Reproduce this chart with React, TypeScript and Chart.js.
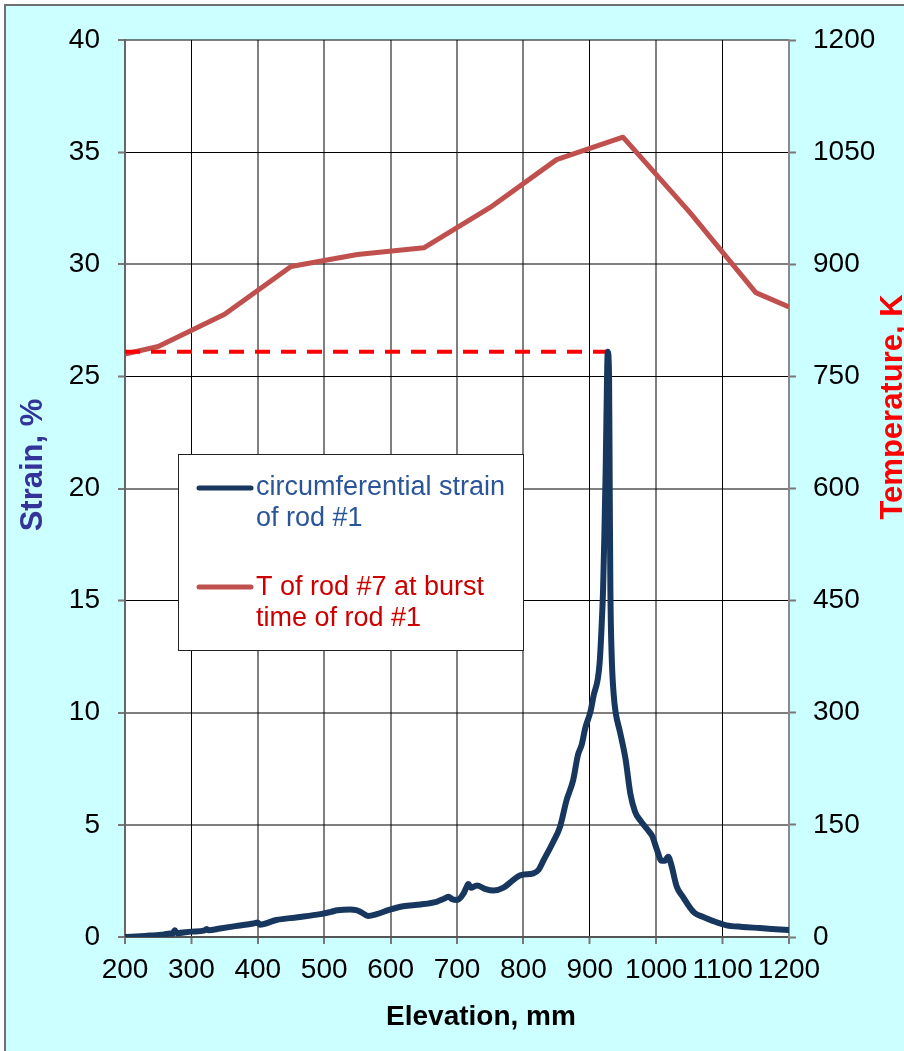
import React, { useEffect, useRef } from "react";
import { Chart, registerables } from "chart.js";

Chart.register(...registerables);

const FONT = '"Liberation Sans", Arial, Helvetica, sans-serif';

// Circumferential strain of rod #1 along the elevation (mm -> %)
const strainElevation = [
  200, 230, 255, 268, 272, 275, 278, 300, 320, 323,
  326, 343, 370, 393, 400, 403, 428, 460, 494, 510,
  520, 539, 548, 556, 566, 579, 599, 619, 645, 669,
  680, 687, 693, 700, 710, 714, 717, 721, 730, 742,
  755, 770, 783, 795, 815, 823, 830, 845, 855, 865,
  875, 882, 888, 893, 901, 906, 912, 915, 918, 920,
  922, 924, 926, 927, 929, 930, 931, 933, 936, 939,
  945, 948, 954, 961, 968, 976, 988, 994, 1001, 1008,
  1013, 1018, 1022, 1031, 1040, 1050, 1058, 1070, 1085, 1106,
  1130, 1156, 1180, 1200,
];
const strainPercent = [
  0, 0.05, 0.1, 0.16, 0.15, 0.3, 0.17, 0.24, 0.3, 0.36,
  0.3, 0.38, 0.5, 0.6, 0.65, 0.55, 0.76, 0.88, 1.02, 1.12,
  1.19, 1.23, 1.2, 1.1, 0.94, 1.02, 1.22, 1.37, 1.45, 1.57,
  1.7, 1.8, 1.68, 1.65, 1.95, 2.2, 2.36, 2.2, 2.3, 2.15,
  2.07, 2.2, 2.5, 2.75, 2.84, 3.0, 3.4, 4.25, 4.9, 6.1,
  7.0, 8.1, 8.6, 9.3, 10.05, 10.8, 11.5, 12.3, 14, 15.5,
  18, 21, 25, 26.1, 25, 20, 15.5, 12.5, 10.8, 10,
  9.2, 8.8, 7.9, 6.4, 5.6, 5.2, 4.75, 4.5, 3.9, 3.4,
  3.4, 3.58, 3.3, 2.24, 1.8, 1.35, 1.07, 0.9, 0.72, 0.52,
  0.45, 0.4, 0.35, 0.31,
];

// Temperature of rod #7 at the burst time of rod #1 (mm -> K)
const tempElevation = [200, 250, 350, 450, 500, 550, 650, 750, 850, 950, 1050, 1150, 1200];
const tempKelvin = [780, 790, 833, 897, 905, 913, 922, 976, 1040, 1070, 970, 862, 843];

// Burst strain marker (dashed), on the strain axis
const burstElevation = [200, 927];
const burstStrain = [26.1, 26.1];

const strainLegend = ["circumferential strain", "of rod #1"];
const tempLegend = ["T of rod #7 at burst", "time of rod #1"];

const xDarkGrid = [300, 900, 1100];
const yDarkGrid = [35, 25, 15];

const STRAIN_COLOR = "#17375e";
const TEMP_COLOR = "#c0504d";

const toPoints = (xs: number[], ys: number[]) => xs.map((x, i) => ({ x, y: ys[i] }));
const plainNumber = (v: any) => String(v);

const decorPlugin = {
  id: "decor",
  beforeDraw(chart: any) {
    const { ctx, chartArea } = chart;
    ctx.save();
    ctx.fillStyle = "#ffffff";
    ctx.fillRect(chartArea.left, chartArea.top, chartArea.right - chartArea.left, chartArea.bottom - chartArea.top);
    ctx.restore();
  },
  afterDraw(chart: any) {
    const { ctx } = chart;
    ctx.save();

    // legend box
    ctx.fillStyle = "#ffffff";
    ctx.fillRect(178.5, 454.5, 345, 196);
    ctx.strokeStyle = "#222";
    ctx.lineWidth = 1;
    ctx.strokeRect(178.5, 454.5, 345, 196);

    ctx.lineCap = "round";
    ctx.lineWidth = 5;
    ctx.strokeStyle = STRAIN_COLOR;
    ctx.beginPath();
    ctx.moveTo(199, 488);
    ctx.lineTo(251, 488);
    ctx.stroke();
    ctx.strokeStyle = TEMP_COLOR;
    ctx.beginPath();
    ctx.moveTo(199, 587);
    ctx.lineTo(251, 587);
    ctx.stroke();

    ctx.font = `27px ${FONT}`;
    ctx.textAlign = "left";
    ctx.textBaseline = "middle";
    ctx.fillStyle = "#2a5599";
    strainLegend.forEach((t, i) => ctx.fillText(t, 256, 488 + i * 31));
    ctx.fillStyle = "#cc0000";
    tempLegend.forEach((t, i) => ctx.fillText(t, 256, 588 + i * 31));

    // axis titles
    ctx.textAlign = "center";
    ctx.textBaseline = "alphabetic";
    ctx.font = `bold 31px ${FONT}`;
    ctx.fillStyle = "#333399";
    ctx.save();
    ctx.translate(42, 465);
    ctx.rotate(-Math.PI / 2);
    ctx.fillText("Strain, %", 0, 0);
    ctx.restore();

    ctx.fillStyle = "#ff0000";
    ctx.save();
    ctx.translate(902, 407);
    ctx.rotate(-Math.PI / 2);
    ctx.fillText("Temperature, K", 0, 0);
    ctx.restore();

    ctx.fillStyle = "#000000";
    ctx.font = `bold 28px ${FONT}`;
    ctx.fillText("Elevation, mm", 481, 1025);

    ctx.restore();
  },
};

export default function App() {
  const canvasRef = useRef<HTMLCanvasElement | null>(null);

  useEffect(() => {
    const canvas = canvasRef.current;
    if (!canvas) return;
    const tickFont = { family: FONT, size: 28 };

    const chart = new Chart(canvas, {
      type: "line",
      data: {
        datasets: [
          {
            label: strainLegend.join(" "),
            data: toPoints(strainElevation, strainPercent),
            yAxisID: "y",
            borderColor: STRAIN_COLOR,
            borderWidth: 6,
            pointRadius: 0,
            cubicInterpolationMode: "monotone",
            borderJoinStyle: "round",
            borderCapStyle: "round",
            fill: false,
          },
          {
            label: "burst",
            data: toPoints(burstElevation, burstStrain),
            yAxisID: "y",
            borderColor: "#ff0000",
            borderWidth: 4,
            borderDash: [15, 11],
            pointRadius: 0,
            tension: 0,
            fill: false,
          },
          {
            label: tempLegend.join(" "),
            data: toPoints(tempElevation, tempKelvin),
            yAxisID: "y2",
            borderColor: TEMP_COLOR,
            borderWidth: 5,
            pointRadius: 0,
            tension: 0,
            borderJoinStyle: "round",
            fill: false,
          },
        ],
      },
      options: {
        responsive: false,
        animation: false,
        layout: { padding: { top: 40, left: 0, right: 0, bottom: 0 } },
        plugins: {
          legend: { display: false },
          tooltip: { enabled: false },
          title: { display: false },
        },
        scales: {
          x: {
            type: "linear",
            min: 200,
            max: 1200,
            afterFit: (s: any) => {
              s.height = 114;
            },
            ticks: {
              stepSize: 100,
              autoSkip: false,
              maxRotation: 0,
              minRotation: 0,
              padding: 9,
              color: "#000",
              font: tickFont,
              callback: plainNumber,
            },
            grid: {
              color: (c: any) => (xDarkGrid.includes(c.tick?.value) ? "#000000" : "rgba(0,0,0,0.5)"),
              lineWidth: (c: any) => (xDarkGrid.includes(c.tick?.value) ? 1 : 2),
              tickLength: 7,
              tickColor: "#777777",
              tickWidth: 2,
            },
            border: { display: true, color: "#555555", width: 2 },
          },
          y: {
            type: "linear",
            position: "left",
            min: 0,
            max: 40,
            afterFit: (s: any) => {
              s.width = 125;
            },
            ticks: { stepSize: 5, padding: 18, color: "#000", font: tickFont, callback: plainNumber },
            grid: {
              color: (c: any) => (yDarkGrid.includes(c.tick?.value) ? "#000000" : "rgba(0,0,0,0.5)"),
              lineWidth: (c: any) => (yDarkGrid.includes(c.tick?.value) ? 1 : 2),
              tickLength: 7,
              tickColor: "#777777",
              tickWidth: 2,
            },
            border: { display: true, color: "#666666", width: 2 },
          },
          y2: {
            type: "linear",
            position: "right",
            min: 0,
            max: 1200,
            afterFit: (s: any) => {
              s.width = 115;
            },
            ticks: { stepSize: 150, padding: 17, color: "#000", font: tickFont, callback: plainNumber },
            grid: {
              drawOnChartArea: false,
              tickLength: 7,
              tickColor: "#777777",
              tickWidth: 2,
            },
            border: { display: true, color: "#8a8a8a", width: 2 },
          },
        },
      },
      plugins: [decorPlugin],
    });

    return () => chart.destroy();
  }, []);

  return (
    <div
      style={{
        position: "fixed",
        left: 0,
        top: 0,
        width: 904,
        height: 1051,
        background: "#ffffff",
        overflow: "hidden",
      }}
    >
      <div
        style={{
          position: "absolute",
          left: 4,
          top: 4,
          width: 920,
          height: 1070,
          background: "#ccffff",
          borderLeft: "2px solid #6e6e6e",
          borderTop: "2px solid #6e6e6e",
        }}
      />
      <canvas
        ref={canvasRef}
        width={904}
        height={1051}
        style={{ position: "absolute", left: 0, top: 0, display: "block" }}
      />
    </div>
  );
}
